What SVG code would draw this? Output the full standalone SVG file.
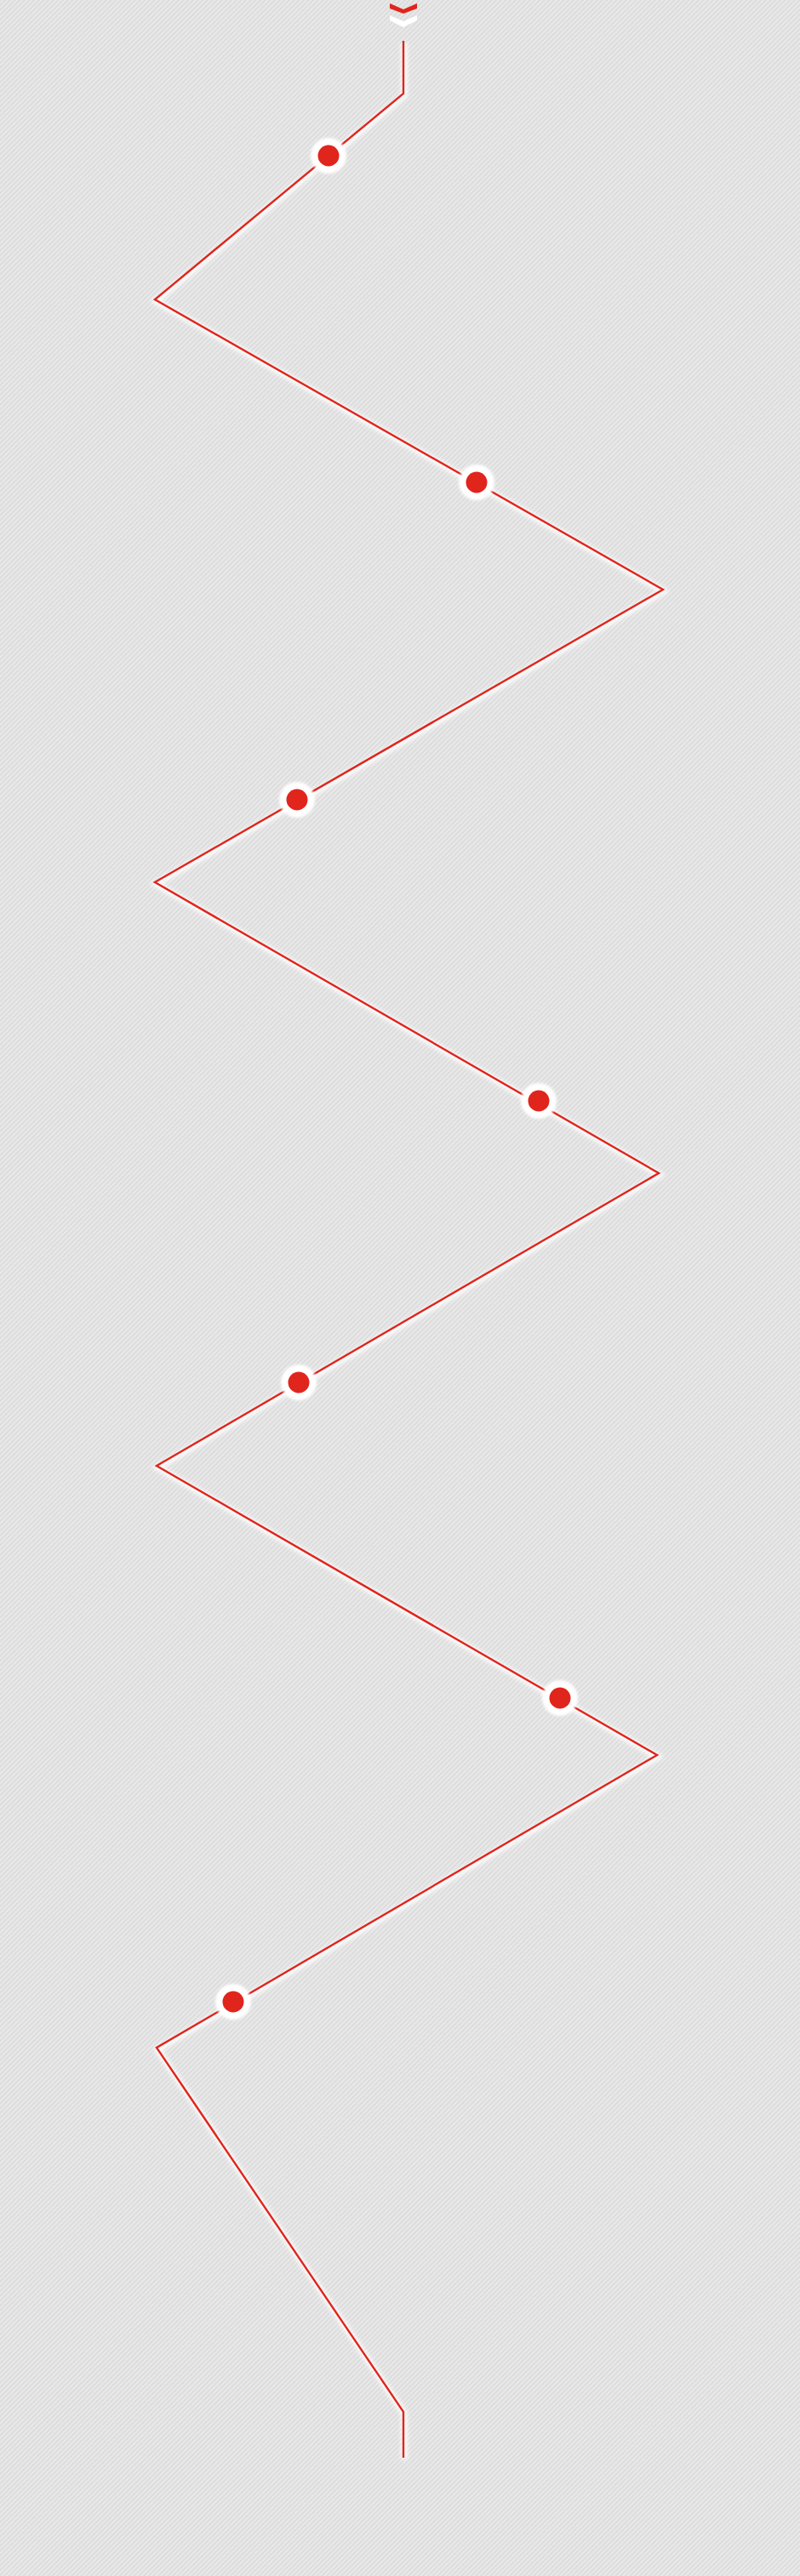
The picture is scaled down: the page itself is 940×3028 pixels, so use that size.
<svg xmlns="http://www.w3.org/2000/svg" width="940" height="3028" viewBox="0 0 940 3028">
  <defs>
    <pattern id="tex" width="4" height="4" patternUnits="userSpaceOnUse" patternTransform="rotate(45)">
      <rect width="4" height="4" fill="#e3e3e3"/>
      <rect width="1" height="4" fill="#d9d9d9"/>
      <rect x="2" width="1" height="4" fill="#ebebeb"/>
    </pattern>
    <filter id="glow" x="-20%" y="-20%" width="140%" height="140%">
      <feGaussianBlur stdDeviation="2.5"/>
    </filter>
    <filter id="dotglow" x="-50%" y="-50%" width="200%" height="200%">
      <feGaussianBlur stdDeviation="1.5"/>
    </filter>
  </defs>
  <style>
    .halo { fill: none; stroke: #ffffff; stroke-width: 7; stroke-linejoin: miter; opacity: 0.9; }
    .wire { fill: none; stroke: #e0251c; stroke-width: 2.4; stroke-linejoin: miter; }
    .ring { fill: #ffffff; }
    .core { fill: #e0251c; }
  </style>
  <rect width="940" height="3028" fill="url(#tex)"/>

  <g id="chevrons">
    <polygon points="458,4 474,11 490,4 490,10 474,16 458,10" fill="#e0251c"/>
    <polygon points="458,18 474,25 490,18 490,24 474,32 458,24" fill="#ffffff"/>
  </g>

  <g id="connectors">
    <polyline class="halo" filter="url(#glow)" transform="translate(1,2)" points="474,48 474,110 182,352 779,693 182,1037 774,1379 184,1723 772,2063 184,2407 474,2835 474,2889"/>
    <polyline class="wire" points="474,48 474,110 182,352 779,693 182,1037 774,1379 184,1723 772,2063 184,2407 474,2835 474,2889"/>
  </g>

  <g id="node1"><circle class="ring" filter="url(#dotglow)" cx="386" cy="183" r="21"/><circle class="core" cx="386" cy="183" r="12.5"/></g>
  <g id="node2"><circle class="ring" filter="url(#dotglow)" cx="560" cy="567" r="21"/><circle class="core" cx="560" cy="567" r="12.5"/></g>
  <g id="node3"><circle class="ring" filter="url(#dotglow)" cx="349" cy="940" r="21"/><circle class="core" cx="349" cy="940" r="12.5"/></g>
  <g id="node4"><circle class="ring" filter="url(#dotglow)" cx="633" cy="1294" r="21"/><circle class="core" cx="633" cy="1294" r="12.5"/></g>
  <g id="node5"><circle class="ring" filter="url(#dotglow)" cx="351" cy="1625" r="21"/><circle class="core" cx="351" cy="1625" r="12.5"/></g>
  <g id="node6"><circle class="ring" filter="url(#dotglow)" cx="658" cy="1996" r="21"/><circle class="core" cx="658" cy="1996" r="12.5"/></g>
  <g id="node7"><circle class="ring" filter="url(#dotglow)" cx="274" cy="2353" r="21"/><circle class="core" cx="274" cy="2353" r="12.5"/></g>
</svg>
